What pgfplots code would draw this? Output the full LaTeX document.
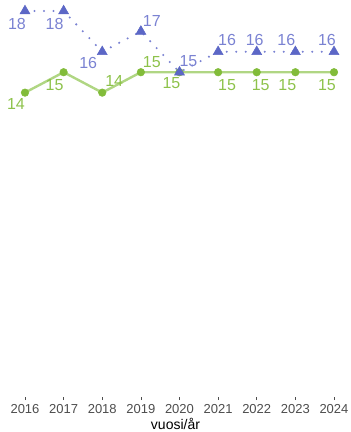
\documentclass[border=0pt]{standalone}
\usepackage{fontspec}
\setmainfont{Liberation Sans}
\usepackage{pgfplots}
\pgfplotsset{compat=1.18}
\definecolor{cblue}{HTML}{5C67C6}
\definecolor{cbluelab}{HTML}{7A82D2}
\definecolor{cgreen}{HTML}{82BC3A}
\definecolor{cgreenline}{HTML}{B0D683}
\definecolor{cgreenlab}{HTML}{8DC24A}
\definecolor{ctick}{HTML}{4D4D4D}

\begin{document}
\begin{tikzpicture}
\useasboundingbox (0pt,-35pt) rectangle (351pt,397pt);
\begin{axis}[
  scale only axis,
  width=351pt, height=397pt,
  xmin=2015.353, xmax=2024.44,
  ymin=-0.92, ymax=18.54,
  axis x line*=bottom, axis y line=none,
  x axis line style={draw=none},
  xtick={2016,...,2024}, ytick=\empty,
  tick align=outside, major tick length=3pt,
  x tick style={color=ctick, line width=0.6pt},
  /pgf/number format/1000 sep={},
  /pgf/number format/assume math mode=true,
  x tick label style={font=\fontsize{13}{13}\selectfont, text=ctick, yshift=-1pt},
  xlabel={vuosi/år},
  xlabel style={font=\fontsize{14}{14}\selectfont, text=black, yshift=2pt},
  clip=false,
]
\addplot[cgreenline, line width=2.4pt, mark=*, mark size=3.8pt,
  mark options={fill=cgreen, draw=cgreen, line width=0.5pt}] coordinates {
  (2016,14) (2017,15) (2018,14) (2019,15) (2020,15)
  (2021,15) (2022,15) (2023,15) (2024,15)
};
\addplot[cbluelab, line width=2.3pt, line cap=round, dash pattern=on 0pt off 9.5pt,
  mark=triangle*, mark size=5.8pt,
  mark options={solid, fill=cblue, draw=cblue, line width=0.5pt}] coordinates {
  (2016,18) (2017,18) (2018,16) (2019,17) (2020,15)
  (2021,16) (2022,16) (2023,16) (2024,16)
};
% value labels, blue
\begin{scope}[every node/.style={font=\fontsize{16}{16}\selectfont, text=cbluelab, inner sep=0pt}]
\node[xshift=-8pt, yshift=-13pt] at (axis cs:2016,18) {18};
\node[xshift=-9pt, yshift=-13pt] at (axis cs:2017,18) {18};
\node[xshift=-14pt, yshift=-11pt] at (axis cs:2018,16) {16};
\node[xshift=11pt, yshift=10pt] at (axis cs:2019,17) {17};
\node[xshift=9pt, yshift=11pt] at (axis cs:2020,15) {15};
\node[xshift=9pt, yshift=12pt] at (axis cs:2021,16) {16};
\node[xshift=-2pt, yshift=12pt] at (axis cs:2022,16) {16};
\node[xshift=-9pt, yshift=12pt] at (axis cs:2023,16) {16};
\node[xshift=-7pt, yshift=12pt] at (axis cs:2024,16) {16};
\end{scope}
% value labels, green
\begin{scope}[every node/.style={font=\fontsize{16}{16}\selectfont, text=cgreenlab, inner sep=0pt}]
\node[xshift=-9pt, yshift=-11pt] at (axis cs:2016,14) {14};
\node[xshift=-9pt, yshift=-13pt] at (axis cs:2017,15) {15};
\node[xshift=12pt, yshift=12pt] at (axis cs:2018,14) {14};
\node[xshift=11pt, yshift=10pt] at (axis cs:2019,15) {15};
\node[xshift=-8pt, yshift=-11pt] at (axis cs:2020,15) {15};
\node[xshift=9pt, yshift=-13pt] at (axis cs:2021,15) {15};
\node[xshift=4pt, yshift=-13pt] at (axis cs:2022,15) {15};
\node[xshift=-8pt, yshift=-13pt] at (axis cs:2023,15) {15};
\node[xshift=-7pt, yshift=-13pt] at (axis cs:2024,15) {15};
\end{scope}
\end{axis}
\end{tikzpicture}
\end{document}
